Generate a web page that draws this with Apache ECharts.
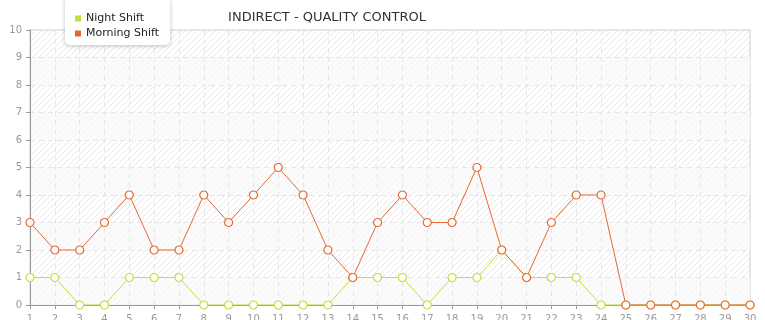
<!DOCTYPE html>
<html><head><meta charset="utf-8">
<script src="https://cdn.jsdelivr.net/npm/echarts@6/dist/echarts.min.js"></script>
<style>html,body{margin:0;padding:0;background:#fff}#c{width:765px;height:320px}</style>
</head><body><div id="c"></div>
<script>
const categories = ['1','2','3','4','5','6','7','8','9','10','11','12','13','14','15','16','17','18','19','20','21','22','23','24','25','26','27','28','29','30'];
const nightShift = [1,1,0,0,1,1,1,0,0,0,0,0,0,1,1,1,0,1,1,2,1,1,1,0,0,0,0,0,0,0];
const morningShift = [3,2,2,3,4,2,2,4,3,4,5,4,2,1,3,4,3,3,5,2,1,3,4,4,0,0,0,0,0,0];
const yTicks = [0,10,1];
const titleText = 'INDIRECT - QUALITY CONTROL';
const GREEN = '#c3de3a', ORANGE = '#e5692f';

const pc = document.createElement('canvas');
pc.width = 6; pc.height = 6;
const g = pc.getContext('2d');
g.fillStyle = '#ffffff'; g.fillRect(0,0,6,6);
g.strokeStyle = '#e8e8e8'; g.lineWidth = 1;
g.beginPath();
g.moveTo(-1,7); g.lineTo(7,-1);
g.moveTo(-1,1); g.lineTo(1,-1);
g.moveTo(5,7); g.lineTo(7,5);
g.stroke();

const FONT = 'DejaVu Sans';
const chart = echarts.init(document.getElementById('c'), null, {renderer:'canvas'});
chart.setOption({
  animation:false,
  textStyle:{fontFamily:FONT},
  title:{text:titleText, left:322, textAlign:'center', top:6, textStyle:{fontSize:13, fontWeight:'normal', color:'#333', fontFamily:FONT}},
  legend:{
    data:[
      {name:'Night Shift', itemStyle:{color:GREEN, borderWidth:0}},
      {name:'Morning Shift', itemStyle:{color:ORANGE, borderWidth:0}}
    ],
    orient:'vertical', left:65, top:-3,
    icon:'rect', itemWidth:6, itemHeight:6, itemGap:4,
    textStyle:{fontSize:11, color:'#222', fontFamily:FONT},
    backgroundColor:'#fff', borderRadius:5, padding:[16,11,6,10],
    shadowBlur:4, shadowColor:'rgba(0,0,0,0.25)', shadowOffsetX:0, shadowOffsetY:1
  },
  grid:{left:30, right:15, top:30, bottom:15, containLabel:false, outerBoundsMode:'none', show:true, backgroundColor:{image:pc, repeat:'repeat'}, borderColor:'#e0e0e0', borderWidth:1.5},
  xAxis:{
    type:'category', data:categories, boundaryGap:false,
    axisLine:{lineStyle:{color:'#999'}},
    axisTick:{show:true, alignWithLabel:true, lineStyle:{color:'#999'}, length:4},
    axisLabel:{color:'#999', fontSize:10, margin:9, interval:0, fontFamily:FONT},
    splitLine:{show:true, lineStyle:{color:'#e6e6e6', type:[5,4]}}
  },
  yAxis:{
    type:'value', min:yTicks[0], max:yTicks[1], interval:yTicks[2],
    axisLine:{show:true, lineStyle:{color:'#999'}},
    axisTick:{show:true, lineStyle:{color:'#999'}, length:4},
    axisLabel:{color:'#999', fontSize:10, margin:8, fontFamily:FONT},
    splitLine:{show:true, lineStyle:{color:'#e6e6e6', type:[5,4], width:1}},
    splitArea:{show:true, areaStyle:{color:['rgba(250,250,250,0.75)','rgba(255,255,255,0)']}}
  },
  series:[
    {name:'Night Shift', type:'line', data:nightShift, color:GREEN,
     symbol:'circle', symbolSize:8, showAllSymbol:true,
     lineStyle:{width:1, color:GREEN},
     itemStyle:{color:'#fff', borderColor:GREEN, borderWidth:1.2}},
    {name:'Morning Shift', type:'line', data:morningShift, color:ORANGE,
     symbol:'circle', symbolSize:8, showAllSymbol:true,
     lineStyle:{width:1, color:ORANGE},
     itemStyle:{color:'#fff', borderColor:ORANGE, borderWidth:1.2}}
  ]
});
</script></body></html>
